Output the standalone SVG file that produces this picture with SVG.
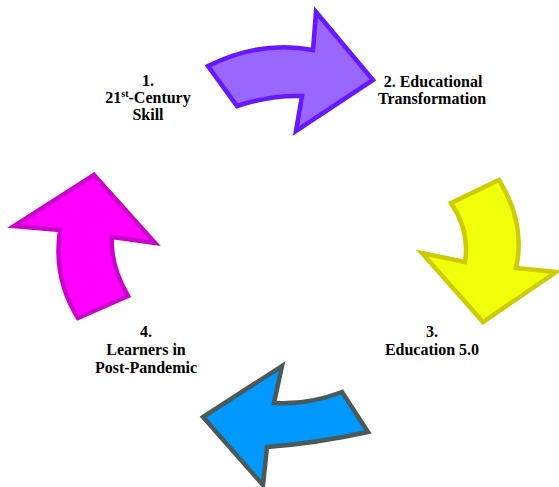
<svg xmlns="http://www.w3.org/2000/svg" width="559" height="487" viewBox="0 0 559 487">
<style>
text{font-family:'Liberation Serif','Times New Roman',Times,serif;font-weight:700;font-size:16px;fill:#000;text-anchor:middle}
.arr{stroke-width:4.5;stroke-linejoin:miter}
.sup{font-size:10px}
</style>
<rect width="559" height="487" fill="#fff"/>
<g id="connectors">
<path id="arrow-1-2" class="arr" fill="#9966ff" stroke="#6619ff" d="M208,66 Q260,40 313,50 L316,12 L373,80 L296,131 L302,96 Q270,95 237,106 Z"/>
<path id="arrow-2-3" class="arr" fill="#f0ff0a" stroke="#cccc00" d="M451,203 L499,180 Q526,224 516,268 L556,272 L483,322 L422,253 L465,262 Q470,231 451,203 Z"/>
<path id="arrow-3-4" class="arr" fill="#0099ff" stroke="#4a5a5a" d="M342,392 L368,432 Q318,443 267,447 L263,485 L203,417 L282,366 L274,403 Q308,405 342,392 Z"/>
<path id="arrow-4-1" class="arr" fill="#ff00ff" stroke="#cc00cc" d="M94,175 L155,243 L112,237 Q110,265 128,296 L78,318 Q53,278 60,230 L14,226 Z"/>
</g>
<g id="node-1">
<text x="148" y="86">1.</text>
<text x="148" y="103">21<tspan class="sup" dy="-6">st</tspan><tspan dy="6">-Century</tspan></text>
<text x="148" y="120">Skill</text>
</g>
<g id="node-2">
<text x="433" y="87">2. Educational</text>
<text x="432" y="104">Transformation</text>
</g>
<g id="node-3">
<text x="432" y="337">3.</text>
<text x="432" y="355">Education 5.0</text>
</g>
<g id="node-4">
<text x="146" y="337">4.</text>
<text x="146" y="355">Learners in</text>
<text x="146" y="373">Post-Pandemic</text>
</g>
</svg>
